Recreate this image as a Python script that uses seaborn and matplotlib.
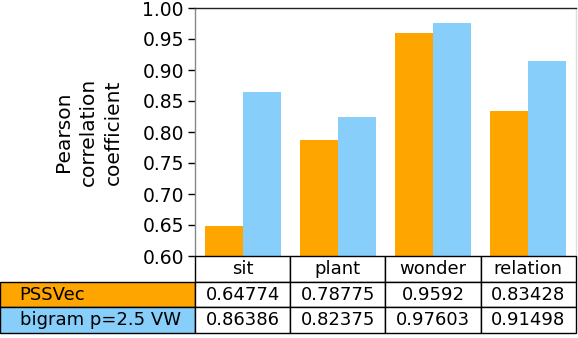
import matplotlib
matplotlib.use("Agg")
import matplotlib.pyplot as plt
import seaborn as sns
import pandas as pd
from matplotlib.table import Table

categories = ["sit", "plant", "wonder", "relation"]
series_names = ["PSSVec", "bigram p=2.5 VW"]
pssvec = [0.64774, 0.78775, 0.9592, 0.83428]
bigram = [0.86386, 0.82375, 0.97603, 0.91498]
pssvec_txt = ["0.64774", "0.78775", "0.9592", "0.83428"]
bigram_txt = ["0.86386", "0.82375", "0.97603", "0.91498"]
colors = ["#FFA500", "#87CEFA"]

df = pd.DataFrame({
    "category": categories * 2,
    "series": [series_names[0]] * 4 + [series_names[1]] * 4,
    "value": pssvec + bigram,
})

sns.set_style("white")
plt.rcParams["font.family"] = ["DejaVu Sans"]

W, H = 578, 338
fig = plt.figure(figsize=(W / 100, H / 100), dpi=100)
ax = fig.add_axes([195 / W, (H - 256) / H, 381 / W, 248 / H])

sns.barplot(data=df, x="category", y="value", hue="series", order=categories,
            hue_order=series_names, palette=colors, width=0.8, saturation=1,
            legend=False, ax=ax, linewidth=0)

ax.set_ylim(0.60, 1.00)
ax.set_yticks([0.60, 0.65, 0.70, 0.75, 0.80, 0.85, 0.90, 0.95, 1.00])
ax.set_yticklabels([f"{v:.2f}" for v in ax.get_yticks()], fontsize=13.5, color="black")
ax.tick_params(axis="y", left=True, length=5, width=1, color="black", pad=3)
ax.set_xticks([])
ax.set_xlabel("")
ax.set_ylabel("Pearson\ncorrelation\ncoefficient", fontsize=14.5, labelpad=14,
              linespacing=1.4, color="black")

ax.spines["left"].set_color("#888888")
ax.spines["top"].set_color("#222222")
ax.spines["right"].set_color("#dddddd")
ax.spines["bottom"].set_visible(False)
for s in ax.spines.values():
    s.set_linewidth(1)

# table in its own axes below the chart
tax = fig.add_axes([0, (H - 333) / H, 576 / W, 77 / H])
tax.set_axis_off()
tb = Table(tax, bbox=[0, 0, 1, 1])
lw = 195
cw = 381 / 4
header = tb.add_cell(0, 0, width=lw, height=1, text="", facecolor="none")
header.visible_edges = ""
for j, c in enumerate(categories, start=1):
    tb.add_cell(0, j, width=cw, height=1, text=c, loc="center", facecolor="white")
for i, (name, col, vals) in enumerate(zip(series_names, colors, [pssvec_txt, bigram_txt]), start=1):
    tb.add_cell(i, 0, width=lw, height=1, text=name, loc="left", facecolor=col)
    for j, v in enumerate(vals, start=1):
        tb.add_cell(i, j, width=cw, height=1, text=v, loc="center", facecolor="white")
tb.auto_set_font_size(False)
tb.set_fontsize(13)
for key, cell in tb.get_celld().items():
    cell.set_edgecolor("black")
    cell.set_linewidth(1)
    cell.get_text().set_color("black")
tax.add_table(tb)

fig.savefig("out.png", dpi=100)
